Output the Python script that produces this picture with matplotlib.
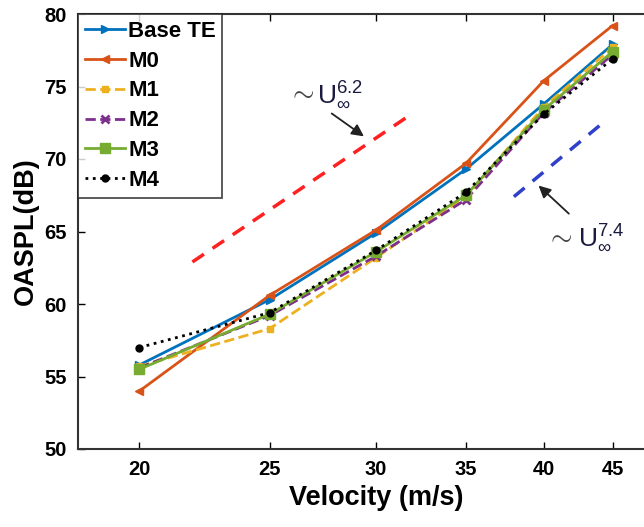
import matplotlib
matplotlib.use('Agg')
import matplotlib.pyplot as plt
from matplotlib.ticker import FixedLocator, NullLocator, FixedFormatter

plt.rcParams['font.family'] = ['Liberation Sans', 'DejaVu Sans']
plt.rcParams['mathtext.fontset'] = 'custom'
plt.rcParams['mathtext.rm'] = 'Liberation Sans'
plt.rcParams['mathtext.it'] = 'Liberation Sans'

# Data
velocity = [20, 25, 30, 35, 40, 45]
base_te = [55.8, 60.3, 64.9, 69.3, 73.8, 77.9]
m0 = [54.0, 60.6, 65.1, 69.7, 75.4, 79.2]
m1 = [55.7, 58.3, 63.2, 67.4, 73.6, 77.7]
m2 = [55.6, 59.2, 63.3, 67.2, 73.2, 77.2]
m3 = [55.5, 59.3, 63.6, 67.5, 73.4, 77.4]
m4 = [57.0, 59.4, 63.7, 67.7, 73.1, 76.9]

# scaling guide lines (endpoints)
ref62_u = [21.9, 32.0]
ref62_db = [62.9, 73.2]
ref74_u = [38.0, 44.4]
ref74_db = [67.4, 72.6]

xticks = [20, 25, 30, 35, 40, 45]
yticks = [50, 55, 60, 65, 70, 75, 80]

fig = plt.figure(figsize=(6.44, 5.27), dpi=100)
ax = fig.add_axes([78 / 644, 1 - 449 / 527, (674 - 78) / 644, (449 - 14) / 527])

ax.plot(velocity, base_te, color='#0072BD', lw=2, marker='>', ms=6, label='Base TE')
ax.plot(velocity, m0, color='#D95319', lw=2, marker='<', ms=6, label='M0')
ax.plot(velocity, m1, color='#EDB120', lw=2, ls='--', marker='s', ms=5, label='M1')
ax.plot(velocity, m2, color='#7E2F8E', lw=2, ls='--', marker='x', ms=6, mew=2, label='M2')
ax.plot(velocity, m3, color='#77AC30', lw=2, marker='s', ms=7, label='M3')
ax.plot(velocity, m4, color='black', lw=2, ls=':', marker='o', ms=5, label='M4')

ax.plot(ref62_u, ref62_db, color='#FF2020', lw=2.5, ls=(0, (4, 3)))
ax.plot(ref74_u, ref74_db, color='#3040C8', lw=2.5, ls=(0, (4, 3)))

# "~ U_inf^n" labels with arrows
ax.annotate('', xy=(29.5, 71.45), xytext=(27.7, 73.25),
            arrowprops=dict(arrowstyle='-|>', color='#222222', lw=1.3, mutation_scale=18))
ax.text(26.4, 74.55, r'$\sim$', fontsize=20, color='#444444', ha='center', va='center')
ax.text(27.1, 74.4, r'$\mathrm{U}_{\infty}^{6.2}$', fontsize=19, color='#1a1a40',
        ha='left', va='center')
ax.annotate('', xy=(39.5, 68.3), xytext=(41.9, 66.1),
            arrowprops=dict(arrowstyle='-|>', color='#222222', lw=1.3, mutation_scale=18))
ax.text(41.1, 64.6, r'$\sim$', fontsize=20, color='#444444', ha='center', va='center')
ax.text(42.4, 64.55, r'$\mathrm{U}_{\infty}^{7.4}$', fontsize=19, color='#1a1a40',
        ha='left', va='center')

ax.set_xscale('log')
ax.set_xlim(18, 50)
ax.set_ylim(50, 80)
ax.xaxis.set_major_locator(FixedLocator(xticks))
ax.xaxis.set_major_formatter(FixedFormatter([str(v) for v in xticks]))
ax.xaxis.set_minor_locator(NullLocator())
ax.set_yticks(yticks)
ax.tick_params(direction='in', top=True, right=True, labelsize=14.5, width=1, length=5, pad=8)
for lab in ax.get_xticklabels() + ax.get_yticklabels():
    lab.set_fontweight('bold')
for s in ax.spines.values():
    s.set_linewidth(1.5)
    s.set_color('#333333')

ax.set_xlabel('Velocity (m/s)', fontsize=19.5, fontweight='bold', labelpad=4)
ax.set_ylabel('OASPL(dB)', fontsize=19.5, fontweight='bold', labelpad=4)

leg = ax.legend(loc='upper left', prop={'weight': 'bold', 'size': 16},
                frameon=True, fancybox=False, borderaxespad=0, handlelength=1.8,
                handletextpad=0.15, labelspacing=0.4, borderpad=0.3)
leg.get_frame().set_edgecolor('#222222')
leg.get_frame().set_linewidth(1.3)

fig.savefig('out.png', dpi=100)
